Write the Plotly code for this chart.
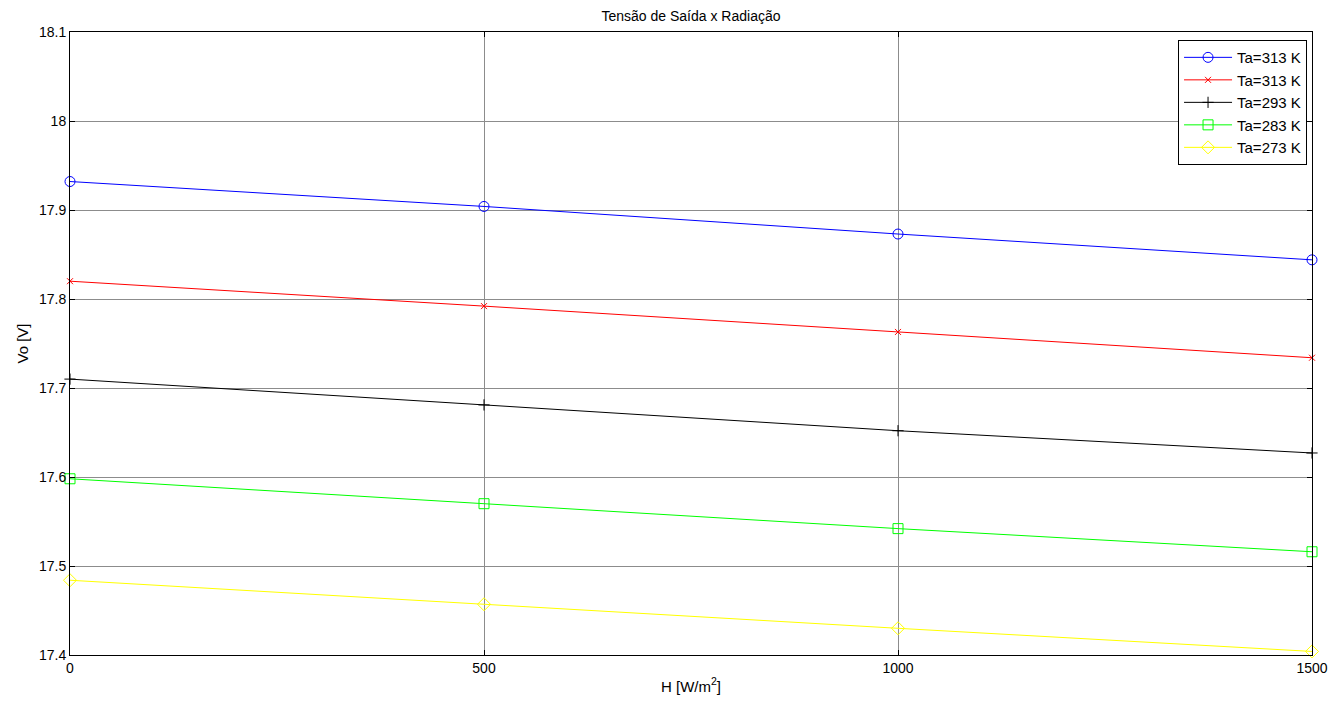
import plotly.graph_objects as go

# Irradiance H [W/m^2]
radiation = [0, 500, 1000, 1500]

# Output voltage Vo [V] for each ambient temperature
vo_313_a = [17.932, 17.904, 17.873, 17.844]
vo_313_b = [17.820, 17.792, 17.763, 17.734]
vo_293 = [17.710, 17.681, 17.652, 17.627]
vo_283 = [17.598, 17.570, 17.542, 17.516]
vo_273 = [17.484, 17.457, 17.430, 17.404]

labels = ["Ta=313 K", "Ta=313 K", "Ta=293 K", "Ta=283 K", "Ta=273 K"]

x_ticks = [0, 500, 1000, 1500]
y_ticks = [17.4, 17.5, 17.6, 17.7, 17.8, 17.9, 18.0, 18.1]
y_tick_text = ["17.4", "17.5", "17.6", "17.7", "17.8", "17.9", "18", "18.1"]

series = [
    (vo_313_a, labels[0], "#0000ff", "circle-open", 10),
    (vo_313_b, labels[1], "#ff0000", "x-thin-open", 6),
    (vo_293, labels[2], "#000000", "cross-thin-open", 8),
    (vo_283, labels[3], "#00ff00", "square-open", 10),
    (vo_273, labels[4], "#ffff00", "diamond-open", 10),
]

fig = go.Figure()
for values, name, color, symbol, size in series:
    fig.add_trace(go.Scatter(
        x=radiation, y=values, name=name, mode="lines+markers",
        line=dict(color=color, width=1),
        marker=dict(symbol=symbol, size=size, color=color,
                    line=dict(color=color, width=1)),
        cliponaxis=False,
    ))

font_family = "Liberation Sans, Arial, Helvetica, sans-serif"

fig.update_layout(
    width=1340, height=704,
    margin=dict(l=70, r=28, t=32, b=49),
    paper_bgcolor="white", plot_bgcolor="white",
    font=dict(family=font_family, size=14, color="black"),
    title=dict(text="Tensão de Saída x Radiação", x=0.5, xref="paper",
               xanchor="center", y=1 - 16 / 704, yanchor="middle",
               font=dict(size=14, color="black")),
    showlegend=True,
    legend=dict(x=0.996, y=0.987, xanchor="right", yanchor="top",
                bgcolor="white", bordercolor="black", borderwidth=1,
                font=dict(size=15, color="black"), itemwidth=48,
                tracegroupgap=0),
)

fig.update_xaxes(
    range=[0, 1500], tickvals=x_ticks, ticktext=[str(v) for v in x_ticks],
    showgrid=True, gridcolor="#8c8c8c", gridwidth=1,
    showline=True, linecolor="black", linewidth=1, mirror="ticks",
    ticks="inside", ticklen=5, tickcolor="black",
    zeroline=False,
    title=dict(text="H [W/m<sup>2</sup>]", standoff=6, font=dict(size=15)),
)
fig.update_yaxes(
    range=[17.4, 18.1], tickvals=y_ticks, ticktext=y_tick_text,
    showgrid=True, gridcolor="#8c8c8c", gridwidth=1,
    showline=True, linecolor="black", linewidth=1, mirror="ticks",
    ticks="inside", ticklen=5, tickcolor="black",
    zeroline=False,
    title=dict(text="Vo [V]", standoff=6, font=dict(size=15)),
)

fig.write_html("out.html")
